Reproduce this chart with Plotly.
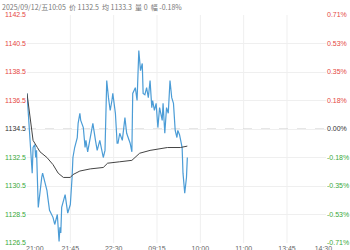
import plotly.graph_objects as go

# trading-minute index (0 = 21:00) and last price
price_min = [0, 3, 5, 6, 7, 9, 10, 11, 13, 15, 17, 18, 23, 24, 26, 30, 32, 35, 37, 38, 39, 40,
             44, 47, 50, 52, 53, 55, 58, 59, 61, 62, 65, 67, 68, 70, 73, 76, 79, 81, 84, 88,
             90, 92, 94, 96, 98, 99, 102, 104, 105, 107, 110, 113, 115, 119, 121, 122, 125,
             127, 129, 131, 133, 134, 136, 138, 140, 142, 144, 145, 147, 149, 151, 153, 156,
             157, 159, 161, 163, 165, 167, 169, 171, 173, 174, 176, 179, 180, 182, 184, 185]
price = [1137.0, 1134.4, 1132.3, 1131.4, 1133.2, 1133.4, 1132.5, 1133.0, 1129.0, 1130.2,
         1131.1, 1131.4, 1130.2, 1129.7, 1128.8, 1128.3, 1127.8, 1128.5, 1126.6, 1127.6,
         1127.2, 1129.0, 1129.9, 1128.6, 1129.2, 1131.1, 1132.5, 1133.2, 1133.9, 1134.9,
         1135.6, 1135.1, 1134.6, 1133.2, 1133.7, 1132.9, 1133.9, 1134.9, 1133.7, 1133.0,
         1133.7, 1132.5, 1133.0, 1137.9, 1136.7, 1135.8, 1136.5, 1137.0, 1135.6, 1133.5,
         1133.5, 1134.2, 1133.7, 1135.3, 1134.2, 1133.5, 1132.9, 1137.0, 1137.4, 1136.5,
         1140.0, 1138.6, 1139.1, 1137.0, 1136.9, 1137.4, 1136.7, 1137.9, 1136.0, 1136.5,
         1135.8, 1136.3, 1134.6, 1136.0, 1135.1, 1136.3, 1134.2, 1136.0, 1135.6, 1137.9,
         1136.7, 1136.3, 1134.4, 1133.9, 1134.4, 1134.1, 1133.2, 1131.4, 1130.0, 1131.1,
         1132.5]

avg_min = [0, 3, 7, 12, 15, 23, 30, 36, 42, 50, 53, 61, 73, 88, 93, 107, 121, 130, 142, 162, 177, 185]
avg_price = [1137.0, 1135.6, 1133.7, 1133.2, 1132.9, 1132.5, 1132.0, 1131.4, 1131.1, 1131.1,
             1131.3, 1131.55, 1131.7, 1131.8, 1132.1, 1132.2, 1132.3, 1132.8, 1133.0, 1133.2,
             1133.2, 1133.3]

prev_settle = 1134.5
y_ticks = [1126.5, 1128.5, 1130.5, 1132.5, 1134.5, 1136.5, 1138.5, 1140.5, 1142.5]
x_tick_pos = [9, 50, 100, 150, 200, 250, 300, 342]
x_tick_labels = ["21:00", "21:45", "22:30", "09:15", "10:00", "11:00", "13:45", "14:30"]
x_grid = [50, 100, 150, 200, 250, 300]
total_minutes = 345
header = "2025/09/12/五10:05  价 1132.5  均 1133.3  量 0  幅 -0.18%"

RED = "#e5483f"
GREEN = "#3aa83a"
ZERO = "#333333"


def col(v):
    if v > prev_settle + 1e-9:
        return RED
    if v < prev_settle - 1e-9:
        return GREEN
    return ZERO


left_text = [f"<span style='color:{col(v)}'>{v:.1f}</span>" for v in y_ticks]
right_text = [f"<span style='color:{col(v)}'>{(v - prev_settle) / prev_settle * 100:.2f}%</span>"
              for v in y_ticks]

fig = go.Figure()
fig.add_trace(go.Scatter(x=price_min, y=price, mode="lines",
                         line=dict(color="#4b9cd6", width=1.2), hoverinfo="skip"))
fig.add_trace(go.Scatter(x=avg_min, y=avg_price, mode="lines", yaxis="y2",
                         line=dict(color="#444444", width=1), hoverinfo="skip"))

shapes = [dict(type="line", xref="x", yref="paper", x0=g, x1=g, y0=0, y1=1,
               line=dict(color="#efefef", width=1), layer="below") for g in x_grid]
shapes.append(dict(type="line", xref="paper", yref="y", x0=0, x1=1,
                   y0=prev_settle, y1=prev_settle,
                   line=dict(color="#cccccc", width=1, dash="dash"), layer="below"))
fig.update_layout(
    width=350, height=250,
    margin=dict(l=27, r=24, t=15, b=7, autoexpand=False),
    paper_bgcolor="white", plot_bgcolor="white",
    showlegend=False,
    font=dict(family="Liberation Sans, Arial", size=7, color="#666666"),
    xaxis=dict(range=[0, total_minutes], tickvals=x_tick_pos, ticktext=x_tick_labels,
               showgrid=False, zeroline=False, showline=False, ticks="", automargin=False,
               tickfont=dict(size=7, color="#666666")),
    yaxis=dict(range=[y_ticks[0], y_ticks[-1]], tickvals=y_ticks, ticktext=left_text,
               showgrid=True, gridcolor="#efefef", gridwidth=1, zeroline=False,
               showline=False, ticks="", automargin=False, tickfont=dict(size=7)),
    yaxis2=dict(range=[y_ticks[0], y_ticks[-1]], tickvals=y_ticks, ticktext=right_text,
                overlaying="y", side="right", showgrid=False, zeroline=False,
                showline=False, ticks="", automargin=False, tickfont=dict(size=7)),
    shapes=shapes,
    annotations=[dict(text=header, xref="paper", yref="paper", x=-27 / 299, y=1 + 15 / 228,
                      xanchor="left", yanchor="top", showarrow=False,
                      font=dict(family="Noto Sans CJK SC, Liberation Sans", size=7,
                                color="#777777"))],
)

fig.write_html("out.html")
